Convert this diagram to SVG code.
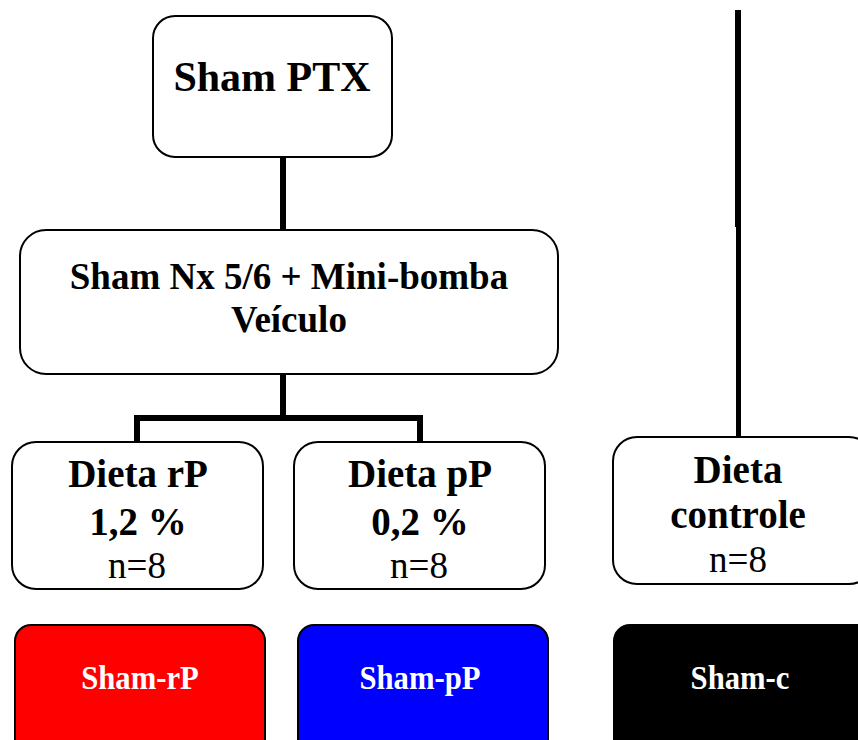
<svg xmlns="http://www.w3.org/2000/svg" width="858" height="740" viewBox="0 0 858 740">
<style>
.box{fill:#fff;stroke:#000;stroke-width:2}
.t{font-family:"Liberation Serif","Times New Roman",serif;text-anchor:middle;fill:#000}
.b{font-weight:bold}
.w{fill:#fff;font-weight:bold;font-size:33px}
.con{fill:none;stroke:#000;stroke-width:6}
</style>
<rect width="858" height="740" fill="#fff"/>
<g id="connectors">
<line class="con" x1="283" y1="157" x2="283" y2="231"/>
<polyline class="con" points="137,443 137,418 420,418 420,443"/>
<line class="con" x1="283" y1="374" x2="283" y2="418"/>
<line class="con" x1="738" y1="10" x2="738" y2="227"/>
<line class="con" x1="738.5" y1="221" x2="738.5" y2="438" style="stroke-width:5"/>
</g>
<g id="sham-ptx">
<rect class="box" x="153" y="16" width="239" height="141" rx="22"/>
<text class="t b" x="272" y="91" font-size="42">Sham PTX</text>
</g>
<g id="sham-nx">
<rect class="box" x="20" y="230" width="538" height="144" rx="26"/>
<text class="t b" x="289" y="289" font-size="37">Sham Nx 5/6 + Mini-bomba</text>
<text class="t b" x="289" y="332" font-size="37">Veículo</text>
</g>
<g id="dieta-rp">
<rect class="box" x="12" y="442" width="251" height="147" rx="24"/>
<text class="t b" x="138" y="487" font-size="39">Dieta rP</text>
<text class="t b" x="138" y="535" font-size="39">1,2 %</text>
<text class="t" x="137" y="578" font-size="37">n=8</text>
</g>
<g id="dieta-pp">
<rect class="box" x="294" y="442" width="251" height="147" rx="24"/>
<text class="t b" x="420" y="487" font-size="39">Dieta pP</text>
<text class="t b" x="420" y="535" font-size="39">0,2 %</text>
<text class="t" x="419" y="578" font-size="37">n=8</text>
</g>
<g id="dieta-controle">
<rect class="box" x="613" y="437" width="260" height="147" rx="24"/>
<text class="t b" x="738" y="483" font-size="39">Dieta</text>
<text class="t b" x="738" y="528" font-size="39">controle</text>
<text class="t" x="738" y="572" font-size="37">n=8</text>
</g>
<g id="sham-rp">
<rect x="15" y="625" width="250" height="130" rx="16" fill="#ff0000" stroke="#000" stroke-width="2"/>
<text class="t w" transform="translate(140,689) scale(0.93,1)">Sham-rP</text>
</g>
<g id="sham-pp">
<rect x="298" y="625" width="250" height="130" rx="16" fill="#0000ff" stroke="#000" stroke-width="2"/>
<text class="t w" transform="translate(420,689) scale(0.93,1)">Sham-pP</text>
</g>
<g id="sham-c">
<rect x="614" y="625" width="260" height="130" rx="16" fill="#000" stroke="#000" stroke-width="2"/>
<text class="t w" transform="translate(740,689) scale(0.93,1)">Sham-c</text>
</g>
</svg>
